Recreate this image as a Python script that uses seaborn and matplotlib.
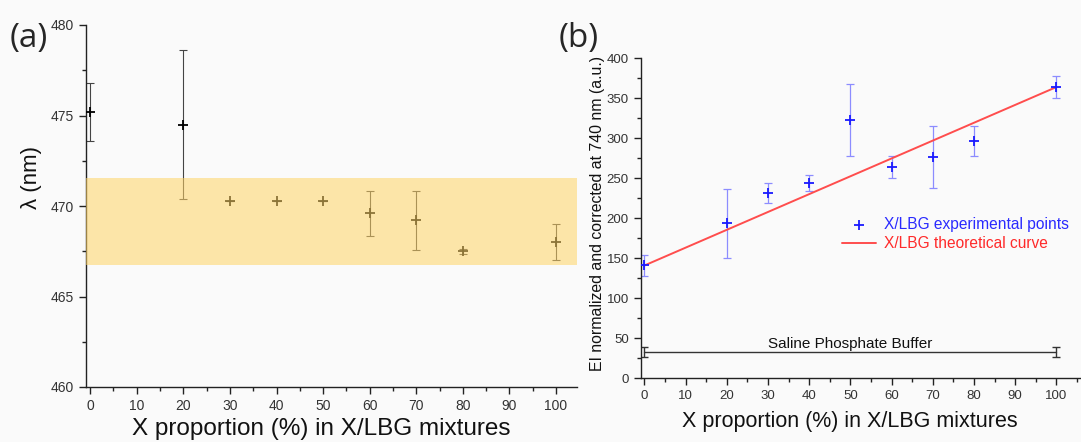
import numpy as np
import pandas as pd
import matplotlib
matplotlib.use('Agg')
import matplotlib.pyplot as plt
from matplotlib.ticker import MultipleLocator
import seaborn as sns

sns.set_theme(style='ticks')
plt.rcParams['font.family'] = ['Liberation Sans', 'DejaVu Sans']

# panel (a): emission wavelength vs X proportion
x_a = [0, 20, 30, 40, 50, 60, 70, 80, 100]
lam = [475.2, 474.5, 470.3, 470.3, 470.3, 469.6, 469.2, 467.5, 468.0]
lam_err = [1.6, 4.1, 0.0, 0.0, 0.0, 1.25, 1.65, 0.15, 1.0]
band = [466.75, 471.55]

# panel (b): normalized emission intensity
x_b = [0, 20, 30, 40, 50, 60, 70, 80, 100]
ei = [141.5, 194, 232, 244, 322.5, 264.5, 277, 296.5, 364]
ei_err = [13, 43, 12.5, 10, 45, 13.5, 39, 19, 14]
theory_x = [0, 100]
theory_y = [141, 364]
buffer_x = [0, 100]
buffer_y = [33, 33]
buffer_err = [6, 6]

xlabel = 'X proportion (%) in X/LBG mixtures'

W, H = 1081, 442
fig = plt.figure(figsize=(W / 100, H / 100), dpi=100, facecolor='#fafafa')

tick_col = '#333333'


def style_axis(ax, tick_size):
    sns.despine(ax=ax)
    ax.set_facecolor('#fafafa')
    for s in ['left', 'bottom']:
        ax.spines[s].set_color('#222222')
        ax.spines[s].set_linewidth(1.0)
    ax.tick_params(which='major', direction='out', length=5, width=1.0,
                   colors='#222222', labelcolor=tick_col, labelsize=tick_size)
    ax.tick_params(which='minor', direction='out', length=3, width=1.0,
                   colors='#222222')
    ax.xaxis.set_major_locator(MultipleLocator(10))
    ax.xaxis.set_minor_locator(MultipleLocator(5))


# ---- (a)
ax1 = fig.add_axes([86 / W, 1 - 387 / H, (577 - 86) / W, (387 - 25) / H])
df_a = pd.DataFrame({'x': x_a, 'lam': lam, 'err': lam_err})
ax1.errorbar(df_a['x'], df_a['lam'], yerr=df_a['err'], fmt='none',
             ecolor='#444444', elinewidth=0.8, capsize=3, capthick=0.8, zorder=2)
sns.scatterplot(data=df_a, x='x', y='lam', marker='+', s=60, color='black',
                linewidth=1.3, ax=ax1, zorder=3, legend=False)
ax1.axhspan(band[0], band[1], color='#ffd465', alpha=0.55, lw=0, zorder=4)
ax1.set_xlim(-0.9, 104.5)
ax1.set_ylim(460, 480)
style_axis(ax1, 10)
ax1.yaxis.set_major_locator(MultipleLocator(5))
ax1.yaxis.set_minor_locator(MultipleLocator(2.5))
ax1.set_xlabel(xlabel, fontsize=17.5, color='#111111')
ax1.xaxis.set_label_coords(0.48, -0.085)
ax1.set_ylabel('λ (nm)', fontsize=16, color='#111111')
ax1.yaxis.set_label_coords(-0.09, 0.58)

# ---- (b)
ax2 = fig.add_axes([640.7 / W, 1 - 378.3 / H, (W - 640.7) / W, 320 / H])
df_b = pd.DataFrame({'x': x_b, 'ei': ei, 'err': ei_err})
df_t = pd.DataFrame({'x': theory_x, 'y': theory_y})
ax2.errorbar(df_b['x'], df_b['ei'], yerr=df_b['err'], fmt='none',
             ecolor='#8c8cff', elinewidth=0.9, capsize=3, capthick=0.9, zorder=2)
sns.lineplot(data=df_t, x='x', y='y', color='#ff4d4d', lw=1.4, ax=ax2,
             zorder=3, label='X/LBG theoretical curve')
sns.scatterplot(data=df_b, x='x', y='ei', marker='+', s=60, color='#1a1aff',
                linewidth=1.3, ax=ax2, zorder=4, label='X/LBG experimental points')
ax2.errorbar(buffer_x, buffer_y, yerr=buffer_err, color='#333333', lw=1.0,
             capsize=3, capthick=1.0, zorder=2)
ax2.text(50, 34, 'Saline Phosphate Buffer', ha='center', va='bottom',
         fontsize=11, color='#111111')
ax2.set_xlim(-0.9, 106)
ax2.set_ylim(0, 400)
style_axis(ax2, 9.5)
ax2.yaxis.set_major_locator(MultipleLocator(50))
ax2.yaxis.set_minor_locator(MultipleLocator(25))
ax2.set_xlabel(xlabel, fontsize=15.5, color='#111111')
ax2.xaxis.set_label_coords(0.475, -0.102)
ax2.set_ylabel('EI normalized and corrected at 740 nm (a.u.)', fontsize=11.4,
               color='#111111')
ax2.yaxis.set_label_coords(-0.081, 0.515)

handles, labels = ax2.get_legend_handles_labels()
order = [labels.index('X/LBG experimental points'), labels.index('X/LBG theoretical curve')]
ax2.legend([handles[i] for i in order], [labels[i] for i in order],
           loc='center left', bbox_to_anchor=(836 / W, 1 - 234 / H),
           bbox_transform=fig.transFigure, frameon=False, fontsize=11.2,
           labelcolor=['#2a2aff', '#ff2a2a'], handlelength=2.2,
           handletextpad=0.5, borderaxespad=0, labelspacing=0.3)

fig.text(10 / W, 1 - 39 / H, '(a)', fontsize=24, va='center', ha='left',
         family=['Open Sans', 'DejaVu Sans'])
fig.text(559 / W, 1 - 39 / H, '(b)', fontsize=24, va='center', ha='left',
         family=['Open Sans', 'DejaVu Sans'])

fig.savefig('out.png', dpi=100, facecolor=fig.get_facecolor())
